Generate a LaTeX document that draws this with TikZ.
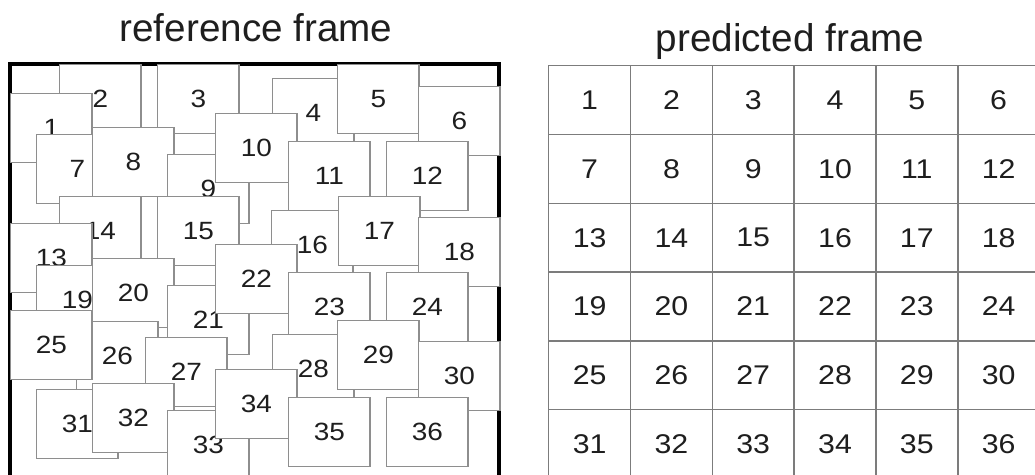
\documentclass[tikz,border=0pt]{standalone}
\usepackage{fontspec}
\setmainfont{Liberation Sans}
\setsansfont{Liberation Sans}
\newfontfamily\blockfont[FakeStretch=1.12]{Liberation Sans}
\usetikzlibrary{positioning}
\definecolor{cedge}{HTML}{8E8E8E}
\definecolor{cgrid}{HTML}{7C7C7C}
\definecolor{ctext}{HTML}{1E1E1E}
\tikzset{
  every picture/.style={line width=0.85pt},
  refblk/.style={draw=cedge, fill=white, anchor=north west, minimum width=1.63cm, minimum height=1.38cm, inner sep=0pt, text=ctext, font=\blockfont\fontsize{14.2}{14.2}\selectfont},
  predcell/.style={draw=cgrid, fill=white, anchor=north west, minimum width=1.636cm, minimum height=1.376cm, inner sep=0pt, text=ctext, font=\blockfont\fontsize{15.4}{15.4}\selectfont},
  frameline/.style={draw=black, line width=2.2pt},
  title/.style={font=\fontsize{22}{22}\selectfont, text=ctext, anchor=base},
}

\begin{document}
\begin{tikzpicture}[x=0.02cm, y=-0.02cm]
  \useasboundingbox (0,0) rectangle (1035,475);
  \clip (0,0) rectangle (1035,475);
  % ---------- reference frame ----------
  \node[title] (reftitle) at (256,42) {reference frame};
  \draw[frameline] (10,64) rectangle (499,520);
  \foreach \n/\x/\y in {2/59/64, 1/10/93, 3/157/64, 4/272/78, 5/337/64, 6/418/86,
      7/36/134, 8/92/127, 9/167/154, 10/215/113, 11/288/141, 12/386/141,
      14/59/196, 13/10/223, 15/157/196, 16/271/210, 17/338/196, 18/418/217,
      19/36/265, 20/92/258, 21/167/285, 22/215/244, 23/288/272, 24/386/272,
      26/76/321, 25/10/310, 27/145/337, 28/272/334, 29/337/320, 30/418/341,
      31/36/389, 32/92/383, 33/167/410, 34/215/369, 35/288/397, 36/386/397}
    \node[refblk] (r\n) at (\x,\y) {\n};
  % ---------- predicted frame ----------
  \node[title] (predtitle) at (790,52) {predicted frame};
  \foreach \r in {0,...,5}
    \foreach \c in {0,...,5} {
      \pgfmathtruncatemacro\n{6*\r+\c+1}
      \node[predcell] (p\n) at ({548+81.8*\c},{65+68.8*\r}) {\n};
    }
\end{tikzpicture}
\end{document}
